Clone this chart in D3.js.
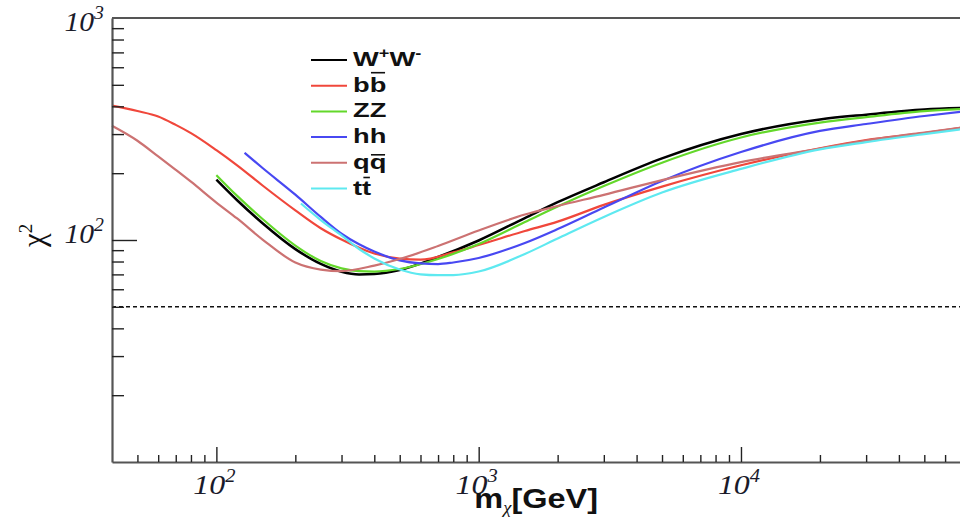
<!DOCTYPE html>
<html>
<head>
<meta charset="utf-8">
<script src="https://cdn.jsdelivr.net/npm/d3@7"></script>
<style>
body { margin: 0; background: #fff; }
svg { display: block; }
</style>
</head>
<body>
<div class="chart"></div>
<script>
// channels, legend order
var channels = ["WW", "bb", "ZZ", "hh", "qq", "tt"];
var colors = ["#000000", "#f0473b", "#63d82a", "#4848f2", "#cc7272", "#5ee9f0"];

// chi^2 vs m_chi [GeV]
var mWW = [100, 120, 150, 200, 250, 300, 350, 400, 500, 700, 1000, 1500, 2000, 3000, 5000, 10000, 20000, 30000, 50000, 70000];
var chiWW = [187, 151, 119, 91, 78, 72, 70, 70.3, 73.3, 83.8, 99.5, 125.6, 148, 182, 233, 300, 349, 367, 387, 393];

var mBB = [40, 50, 60, 70, 80, 100, 120, 150, 200, 250, 300, 400, 500, 600, 800, 1000, 1500, 2000, 3000, 5000, 10000, 20000, 30000, 50000, 70000];
var chiBB = [403, 381, 360, 330, 303, 254, 217, 176, 136, 113, 100.5, 86.9, 82.4, 81.5, 87.9, 94.9, 109.8, 121, 144, 174, 217, 259, 282, 303, 321];

var mZZ = [100, 120, 150, 200, 250, 300, 350, 400, 500, 700, 1000, 1500, 2000, 3000, 5000, 10000, 20000, 30000, 50000, 70000];
var chiZZ = [196, 158, 124.3, 94.4, 80.4, 74.5, 72.4, 72.1, 74, 82.1, 95.9, 120.5, 141.6, 175, 223, 289.5, 338, 358, 381, 389];

var mHH = [128, 150, 200, 250, 300, 350, 400, 500, 600, 700, 800, 1000, 1500, 2000, 3000, 5000, 10000, 20000, 30000, 50000, 70000];
var chiHH = [247, 211, 160, 127, 106.7, 95.6, 88.7, 80.9, 78.4, 77.9, 79.2, 83, 97, 112, 140, 184.5, 249, 310, 333, 362, 379];

var mQQ = [40, 50, 60, 70, 80, 100, 120, 150, 200, 250, 300, 400, 500, 700, 1000, 1500, 2000, 3000, 5000, 10000, 20000, 30000, 50000, 70000];
var chiQQ = [327, 280, 238, 207, 183, 147.5, 125, 100.5, 79.2, 73.6, 72.4, 76.7, 82.1, 94, 110.4, 130.2, 142.3, 159.7, 186.2, 224.4, 258, 280.5, 305, 321];

var mTT = [210, 250, 300, 350, 400, 500, 600, 700, 800, 1000, 1500, 2000, 3000, 5000, 10000, 20000, 30000, 50000, 70000];
var chiTT = [146, 123, 104.8, 91.1, 82.6, 73.6, 70, 69.4, 69.5, 72.1, 86.5, 101.6, 127, 163.6, 209, 256, 276, 300, 316];

var masses = [mWW, mBB, mZZ, mHH, mQQ, mTT];
var chis = [chiWW, chiBB, chiZZ, chiHH, chiQQ, chiTT];

// reference level (dashed)
var chiRef = 50;

// axis ticks
var xTicks = [50, 60, 70, 80, 90, 100, 200, 300, 400, 500, 600, 700, 800, 900, 1000,
              2000, 3000, 4000, 5000, 6000, 7000, 8000, 9000, 10000, 20000, 30000, 40000, 50000, 60000, 70000, 80000, 90000];
var yTicks = [20, 30, 40, 50, 60, 70, 80, 90, 100, 200, 300, 400, 500, 600, 700, 800, 900];
var xLabels = [100, 1000, 10000];
var yLabels = [100, 1000];

var W = 960, H = 518;
var plotLeft = 112, plotTop = 18, plotBottom = 462;
var decadeX = 262.3;

var xScale = d3.scaleLog().domain([40, 1e5]).range([plotLeft, plotLeft + decadeX * Math.log10(1e5 / 40)]);
var yScale = d3.scaleLog().domain([10, 1000]).range([plotBottom, plotTop]);

var svg = d3.select("div.chart").append("svg")
    .attr("width", W)
    .attr("height", H);

function isDecade(v) { return Math.abs(Math.log10(v) - Math.round(Math.log10(v))) < 1e-9; }

// dashed reference line
svg.append("line")
    .attr("x1", plotLeft).attr("x2", W)
    .attr("y1", yScale(chiRef)).attr("y2", yScale(chiRef))
    .attr("stroke", "#111")
    .attr("stroke-width", 1.5)
    .attr("stroke-dasharray", "4,3");

// curves
var line = d3.line()
    .x(function(d) { return xScale(d[0]); })
    .y(function(d) { return yScale(d[1]); })
    .curve(d3.curveMonotoneX);

channels.forEach(function(c, i) {
    var pts = masses[i].map(function(m, j) { return [m, chis[i][j]]; });
    svg.append("path")
        .datum(pts)
        .attr("class", "curve " + c)
        .attr("fill", "none")
        .attr("stroke", colors[i])
        .attr("stroke-width", i === 0 ? 2.5 : 2.2)
        .attr("d", line);
});

// x axis (ticks point inward)
var gx = svg.append("g")
    .attr("transform", "translate(0," + plotBottom + ")")
    .call(d3.axisBottom(xScale).tickValues(xTicks).tickSizeInner(-7).tickSizeOuter(0).tickFormat(""));
gx.selectAll(".tick line")
    .attr("y2", function(d) { return isDecade(d) ? -15 : -7; })
    .attr("stroke", "#222")
    .attr("stroke-width", 1.4);
gx.select(".domain").attr("stroke", "#555").attr("stroke-width", 2.2);

// y axis
var gy = svg.append("g")
    .attr("transform", "translate(" + plotLeft + ",0)")
    .call(d3.axisLeft(yScale).tickValues(yTicks).tickSizeInner(-12).tickSizeOuter(0).tickFormat(""));
gy.selectAll(".tick line")
    .attr("x2", function(d) { return isDecade(d) ? 25 : 12; })
    .attr("stroke", "#222")
    .attr("stroke-width", 1.4);
gy.select(".domain").attr("stroke", "#555").attr("stroke-width", 2.2);

// top frame
svg.append("line")
    .attr("x1", plotLeft).attr("x2", W)
    .attr("y1", plotTop).attr("y2", plotTop)
    .attr("stroke", "#555").attr("stroke-width", 2);

// tick labels 10^n
function powLabel(sel, v) {
    sel.append("tspan").text("10");
    sel.append("tspan")
        .attr("dy", -12)
        .style("font-size", "18px")
        .text(Math.round(Math.log10(v)));
}

xLabels.forEach(function(v) {
    var t = svg.append("text")
        .attr("transform", "translate(" + (xScale(v) - 2) + ",494) scale(1.14,1)")
        .attr("text-anchor", "middle")
        .style("font-family", "'Liberation Serif', 'DejaVu Serif', serif")
        .style("font-style", "italic")
        .style("font-size", "28px")
        .attr("fill", "#1a1a2a");
    powLabel(t, v);
});

yLabels.forEach(function(v) {
    var t = svg.append("text")
        .attr("transform", "translate(104," + Math.max(yScale(v) + 3, 31) + ") scale(1.1,1)")
        .attr("text-anchor", "end")
        .style("font-family", "'Liberation Serif', 'DejaVu Serif', serif")
        .style("font-style", "italic")
        .style("font-size", "27px")
        .attr("fill", "#1a1a2a");
    powLabel(t, v);
});

// axis titles
var xt = svg.append("text")
    .attr("transform", "translate(598,508) scale(1.16,1)")
    .attr("text-anchor", "end")
    .style("font-family", "'Liberation Sans', Arial, sans-serif")
    .style("font-weight", "bold")
    .style("font-size", "28px")
    .attr("fill", "#111");
xt.append("tspan").text("m");
xt.append("tspan")
    .attr("dy", 5)
    .style("font-family", "'Liberation Serif', serif")
    .style("font-style", "italic")
    .style("font-weight", "normal")
    .style("font-size", "16px")
    .text("\u03c7");
xt.append("tspan").attr("dy", -5).text("[GeV]");

var yt = svg.append("text")
    .attr("transform", "translate(44,247) rotate(-90)")
    .style("font-family", "'Liberation Serif', 'DejaVu Serif', serif")
    .style("font-size", "31px")
    .attr("fill", "#111");
yt.append("tspan").text("\u03c7");
yt.append("tspan").attr("dy", -12).style("font-size", "19px").text("2");

// legend
var legendParts = [
    [["W", 0], ["+", -8], ["W", 0], ["-", -8]],
    [["bb", 0]],
    [["ZZ", 0]],
    [["hh", 0]],
    [["qq", 0]],
    [["tt", 0]]
];
var legendBar = [false, true, false, false, true, true];
var barRise = [0, 19, 0, 0, 14, 17];

var lg = svg.append("g").attr("class", "legend");
channels.forEach(function(c, i) {
    var ly = 60 + i * 25.7;
    lg.append("line")
        .attr("x1", 311).attr("x2", 347)
        .attr("y1", ly).attr("y2", ly)
        .attr("stroke", colors[i])
        .attr("stroke-width", 2);
    var g = lg.append("g")
        .attr("transform", "translate(353," + (ly + 6) + ") scale(1.3,1)");
    var t = g.append("text")
        .style("font-family", "'Liberation Sans', Arial, sans-serif")
        .style("font-weight", "bold")
        .style("font-size", "21px")
        .attr("fill", "#111");
    var prev = 0;
    legendParts[i].forEach(function(p) {
        var sp = t.append("tspan").attr("dy", p[1] - prev).text(p[0]);
        if (p[1] !== 0) sp.style("font-size", "14px");
        prev = p[1];
    });
    if (legendBar[i]) {
        var r = t.node().getExtentOfChar(1);
        g.append("line")
            .attr("x1", r.x + 1).attr("x2", r.x + r.width - 1)
            .attr("y1", -barRise[i]).attr("y2", -barRise[i])
            .attr("stroke", "#111")
            .attr("stroke-width", 1.6);
    }
});
</script>
</body>
</html>
